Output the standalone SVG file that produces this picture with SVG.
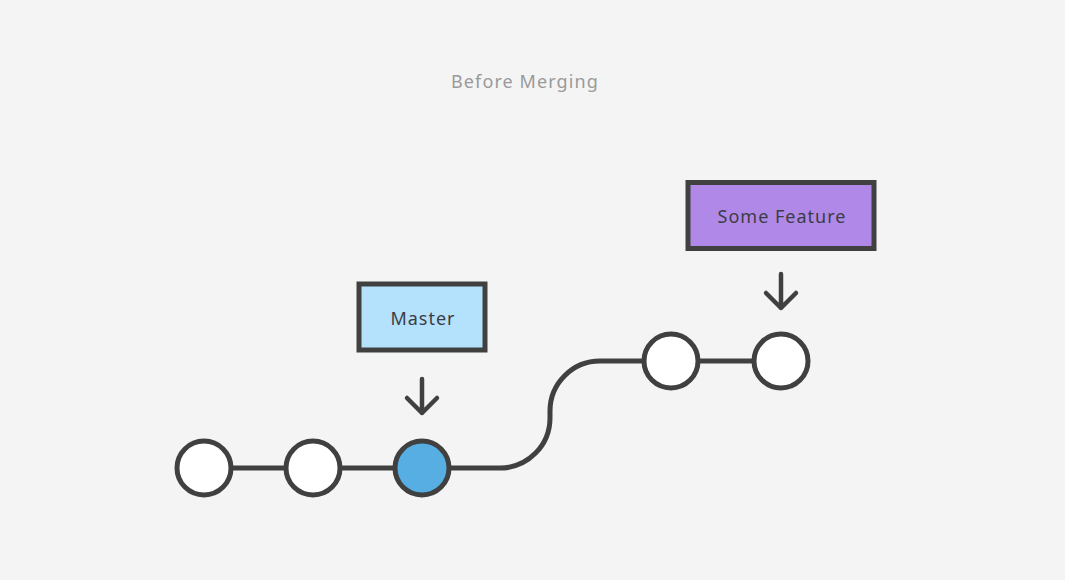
<svg xmlns="http://www.w3.org/2000/svg" width="1065" height="580" viewBox="0 0 1065 580">
<defs>
<style>
.bg{fill:#f4f4f4}
.line{fill:none;stroke:#404040;stroke-width:5}
.arrow{fill:none;stroke:#404040;stroke-width:4.5;stroke-linecap:round;stroke-linejoin:round}
.commit{fill:#ffffff;stroke:#404040;stroke-width:5}
.head{fill:#56aee2;stroke:#404040;stroke-width:5}
.box{stroke:#404040;stroke-width:5}
.label{font-family:"Noto Sans","Lato","Liberation Sans",sans-serif;font-size:18px;fill:#3c3c44;text-anchor:middle;letter-spacing:1px}
.title{font-family:"Noto Sans","Lato","Liberation Sans",sans-serif;font-size:18px;fill:#9a9a9a;text-anchor:middle;letter-spacing:1.1px}
</style>
</defs>
<rect class="bg" x="0" y="0" width="1065" height="580"/>
<text class="title" x="525" y="88">Before Merging</text>
<g id="connectors">
<path class="line" d="M231 468 H286"/>
<path class="line" d="M340 468 H395"/>
<path class="line" d="M449 468 H500 A50 50 0 0 0 550 418 V411 A50 50 0 0 1 600 361 H644"/>
<path class="line" d="M698 361 H754"/>
<path class="arrow" d="M422 379 V413 M407 398 L422 413 L437 398"/>
<path class="arrow" d="M781 274 V308 M766 293 L781 308 L796 293"/>
</g>
<g id="c1"><circle class="commit" cx="204" cy="468" r="27"/></g>
<g id="c2"><circle class="commit" cx="313" cy="468" r="27"/></g>
<g id="c3"><circle class="head" cx="422" cy="468" r="27"/></g>
<g id="c4"><circle class="commit" cx="671" cy="361" r="27"/></g>
<g id="c5"><circle class="commit" cx="781" cy="361" r="27"/></g>
<g id="master"><rect class="box" x="359" y="284" width="126" height="66" fill="#b4e2fd"/><text class="label" x="423" y="325">Master</text></g>
<g id="feature"><rect class="box" x="688" y="182.5" width="186" height="66" fill="#b089e8"/><text class="label" x="782" y="223">Some Feature</text></g>
</svg>
